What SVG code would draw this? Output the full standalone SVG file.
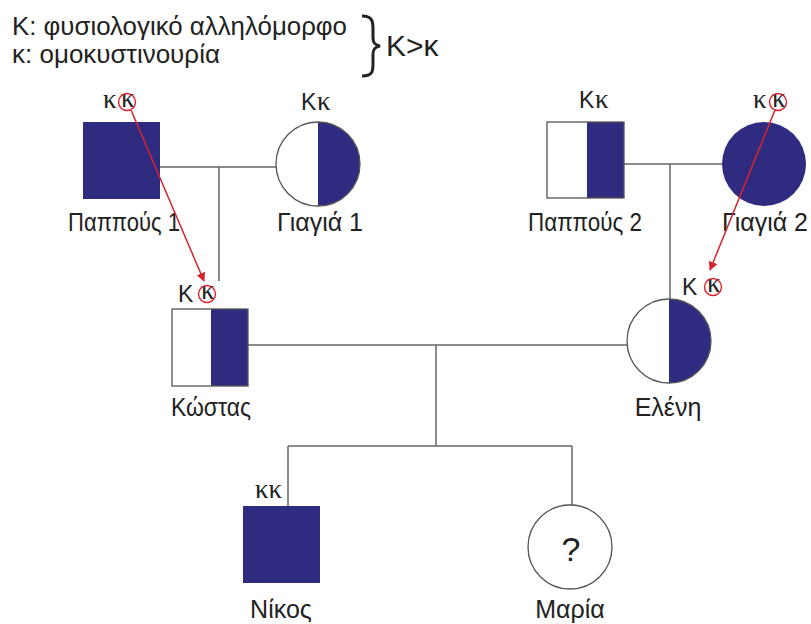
<svg xmlns="http://www.w3.org/2000/svg" width="811" height="624" viewBox="0 0 811 624">
<defs>
<style>
text{font-family:"Liberation Sans",Arial,sans-serif;fill:#222}
.name{font-size:25px;text-anchor:middle}
.K{font-size:23px}
.k{font-family:"Liberation Serif","Times New Roman",serif;font-size:27px}
.leg{font-size:26px}
.navy{fill:#2e2b80}
.white{fill:#fff}
.out{fill:none;stroke:#555;stroke-width:1.3}
.conn line{stroke:#666;stroke-width:1.5}
.red{fill:none;stroke:#d9232e;stroke-width:1.4}
.arrow{stroke:#d9232e;stroke-width:1.5}
</style>
<marker id="ah" viewBox="0 0 10 10" refX="9" refY="5" markerWidth="9" markerHeight="9" orient="auto" markerUnits="userSpaceOnUse">
<path d="M0,0 L10,5 L0,10 z" fill="#d9232e"/>
</marker>
</defs>
<rect width="811" height="624" fill="#fff"/>
<g id="legend">
<text class="leg" x="12" y="35" textLength="335" lengthAdjust="spacingAndGlyphs">K: φυσιολογικό αλληλόμορφο</text>
<text class="leg" x="12" y="63">κ: ομοκυστινουρία</text>
<path d="M362,16 C373,16 373,22 373,30 L373,38 C373,43 375,45 380,46 C375,47 373,49 373,54 L373,63 C373,71 373,76 362,76" fill="none" stroke="#222" stroke-width="3"/>
<text x="386" y="56" style="font-size:30px">K&gt;κ</text>
</g>
<g class="conn" id="connectors">
<line x1="160" y1="167" x2="276" y2="167"/>
<line x1="219" y1="167" x2="219" y2="281"/>
<line x1="624" y1="164" x2="722" y2="164"/>
<line x1="670" y1="164" x2="670" y2="299"/>
<line x1="248" y1="345" x2="627" y2="345"/>
<line x1="436" y1="345" x2="436" y2="446"/>
<line x1="288" y1="446" x2="572" y2="446"/>
<line x1="288" y1="446" x2="288" y2="506"/>
<line x1="572" y1="446" x2="572" y2="505"/>
</g>
<g id="pappous1">
<rect class="navy" x="83" y="122" width="77" height="77"/>
<text class="k" x="103" y="108">κ</text>
<text class="k" x="121" y="107">κ</text>
<circle class="red" cx="127" cy="102" r="8.5"/>
<text class="name" x="124" y="231" textLength="112" lengthAdjust="spacingAndGlyphs">Παππούς 1</text>
</g>
<g id="giagia1">
<path class="white" d="M318,122 A42,42 0 0 0 318,206 z"/>
<path class="navy" d="M318,122 A42,42 0 0 1 318,206 z"/>
<circle class="out" cx="318" cy="164" r="42"/>
<text class="K" x="301" y="110">K</text>
<text class="k" x="317" y="110">κ</text>
<text class="name" x="320" y="231">Γιαγιά 1</text>
</g>
<g id="pappous2">
<rect class="white" x="547" y="122" width="40" height="76"/>
<rect class="navy" x="587" y="122" width="37" height="76"/>
<rect class="out" x="547" y="122" width="77" height="76"/>
<text class="K" x="579" y="108">K</text>
<text class="k" x="595" y="108">κ</text>
<text class="name" x="585" y="231" textLength="114" lengthAdjust="spacingAndGlyphs">Παππούς 2</text>
</g>
<g id="giagia2">
<circle class="navy" cx="764" cy="164" r="42"/>
<text class="k" x="753" y="108">κ</text>
<text class="k" x="772" y="107">κ</text>
<circle class="red" cx="778" cy="102" r="8.5"/>
<text class="name" x="765" y="231">Γιαγιά 2</text>
</g>
<g id="kostas">
<rect class="white" x="172" y="309" width="39" height="77"/>
<rect class="navy" x="211" y="309" width="37" height="77"/>
<rect class="out" x="172" y="309" width="76" height="77"/>
<text class="K" x="178" y="302">K</text>
<text class="k" x="201" y="299">κ</text>
<circle class="red" cx="207" cy="294" r="8.5"/>
<text class="name" x="211" y="416" textLength="80" lengthAdjust="spacingAndGlyphs">Κώστας</text>
</g>
<g id="eleni">
<path class="white" d="M669,299 A42,42 0 0 0 669,383 z"/>
<path class="navy" d="M669,299 A42,42 0 0 1 669,383 z"/>
<circle class="out" cx="669" cy="341" r="42"/>
<text class="K" x="682" y="295">K</text>
<text class="k" x="707" y="292">κ</text>
<circle class="red" cx="713" cy="287" r="8.5"/>
<text class="name" x="668" y="416">Ελένη</text>
</g>
<g id="nikos">
<rect class="navy" x="243" y="506" width="77" height="77"/>
<text class="k" x="255" y="498">κκ</text>
<text class="name" x="281" y="618">Νίκος</text>
</g>
<g id="maria">
<circle class="white" cx="570" cy="547" r="42"/>
<circle class="out" cx="570" cy="547" r="42"/>
<text x="571" y="561" style="font-size:34px;text-anchor:middle">?</text>
<text class="name" x="570" y="618">Μαρία</text>
</g>
<g id="inheritance-arrows">
<line class="arrow" x1="131" y1="110" x2="204" y2="281" marker-end="url(#ah)"/>
<line class="arrow" x1="775" y1="110" x2="710" y2="270" marker-end="url(#ah)"/>
</g>
</svg>
